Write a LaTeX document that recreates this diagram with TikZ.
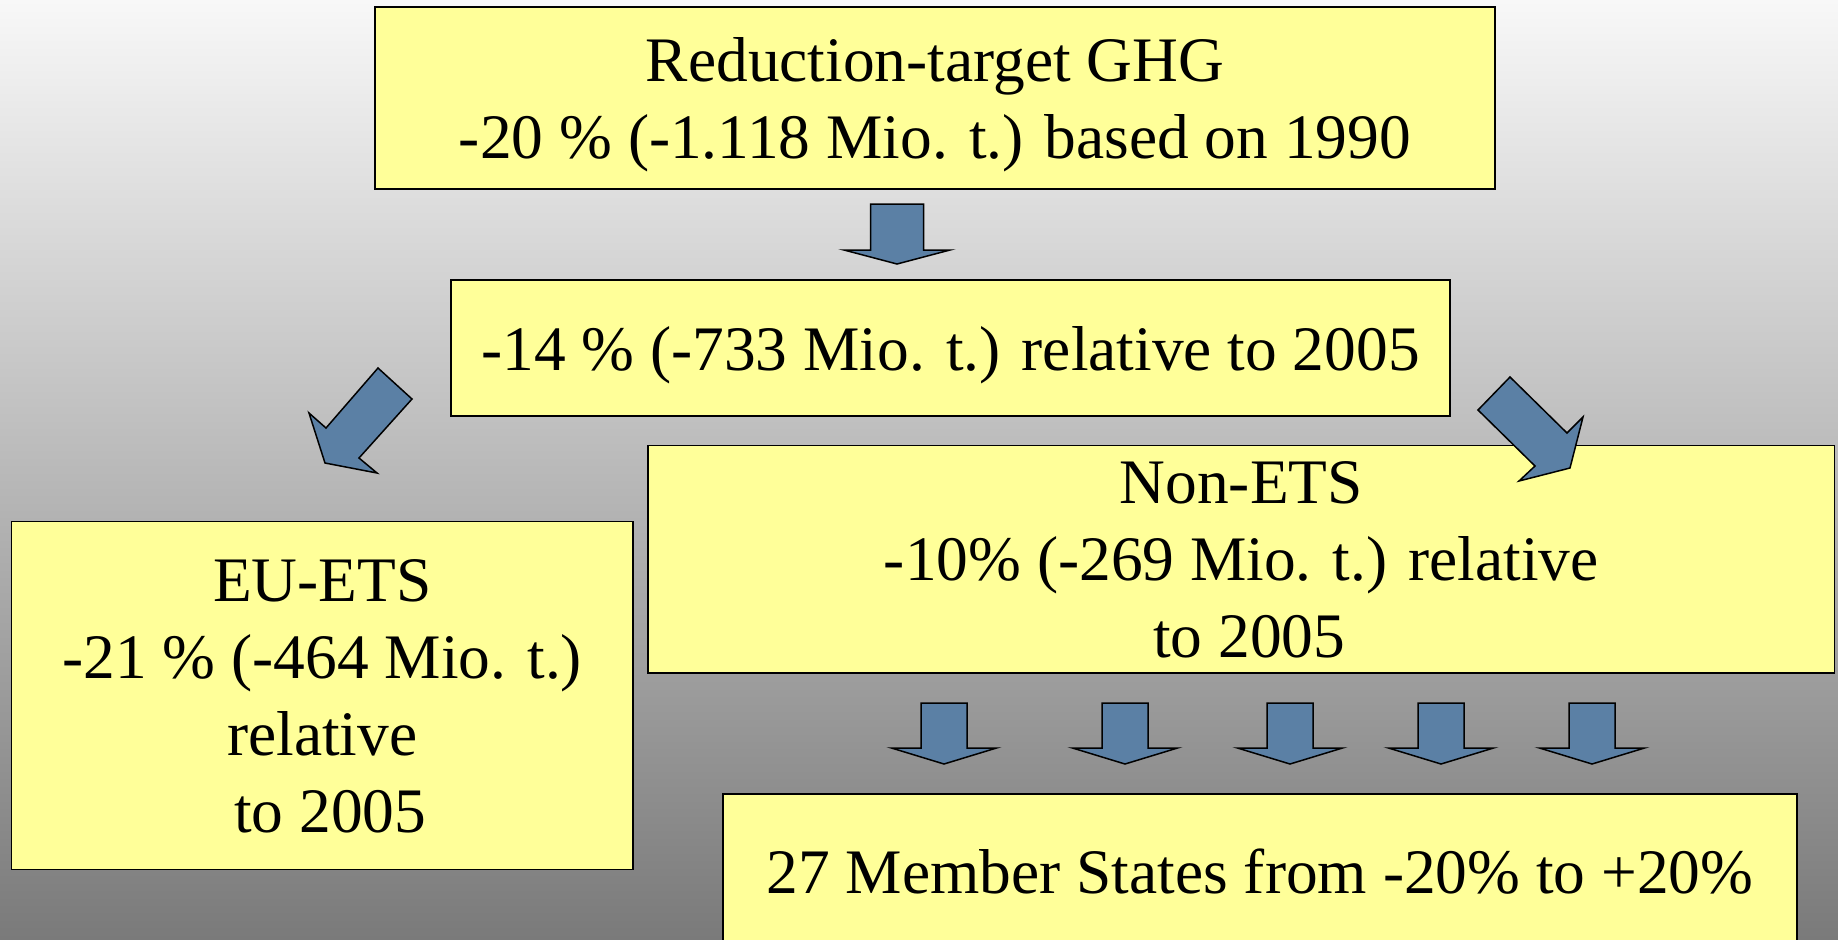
\documentclass[tikz,border=0pt]{standalone}
\usepackage{fontspec}
\setmainfont{Liberation Serif}
\definecolor{boxyellow}{RGB}{255,255,153}
\definecolor{arrowblue}{RGB}{91,128,165}
\definecolor{bgtop}{RGB}{248,248,248}
\definecolor{bgbottom}{RGB}{122,122,122}
\tikzset{
  box/.style={draw=black,line width=0.75pt,fill=boxyellow,inner sep=0pt,outer sep=0pt,
    align=center,font=\fontsize{31.7}{38.5}\selectfont,text depth=0pt},
  blockarrow/.style={draw=black,line width=0.75pt,fill=arrowblue,line join=miter},
  pics/downarr/.style args={#1/#2/#3/#4}{code={
    \draw[blockarrow] (-#1,0) -- (#1,0) -- (#1,#3) -- (#2,#3) -- (0,{#3+#4})
      -- (-#2,#3) -- (-#1,#3) -- cycle;}}
}
\begin{document}
\begin{tikzpicture}[x=0.5pt,y=-0.5pt]
\shade[top color=bgtop,bottom color=bgbottom] (0,0) rectangle (1838,939);
\useasboundingbox (0,0) rectangle (1838,939);
\begin{scope}
\clip (0,0) rectangle (1838,939);
\node[box,minimum width=560pt,minimum height=91pt] (top) at (935,98)
  {Reduction-target GHG\\-20 \% (-1.118 Mio. t.) based on 1990};
\node[box,minimum width=499.5pt,minimum height=68pt] (mid) at (950.5,348)
  {-14 \% (-733 Mio. t.) relative to 2005};
\node[box,minimum width=310.7pt,minimum height=174pt] (ets) at (322.3,695.7)
  {EU-ETS\\-21 \% (-464 Mio. t.)\\relative\\\hphantom{\ }to 2005};
\node[box,minimum width=593.3pt,minimum height=113.7pt] (nonets) at (1241.3,559.1)
  {Non-ETS\\-10\% (-269 Mio. t.) relative\\\hphantom{\ }to 2005};
\node[box,minimum width=537pt,minimum height=77pt] (states) at (1260,871)
  {27 Member States from -20\% to +20\%};
\end{scope}
% block arrows
\pic at (897,204) {downarr={26.5/53/46/14}};
\draw[blockarrow] (378,368) -- (412,399) -- (359,458) -- (377,473) -- (325,463)
  -- (309,413) -- (326,428) -- cycle;
\draw[blockarrow] (1510,377) -- (1478,410) -- (1535,466) -- (1519,481) -- (1570,468)
  -- (1583,417) -- (1567,433) -- cycle;
\foreach \cx in {944,1125,1290,1441,1592}
  \pic at (\cx,703) {downarr={23/52.5/45/16}};
\end{tikzpicture}
\end{document}
